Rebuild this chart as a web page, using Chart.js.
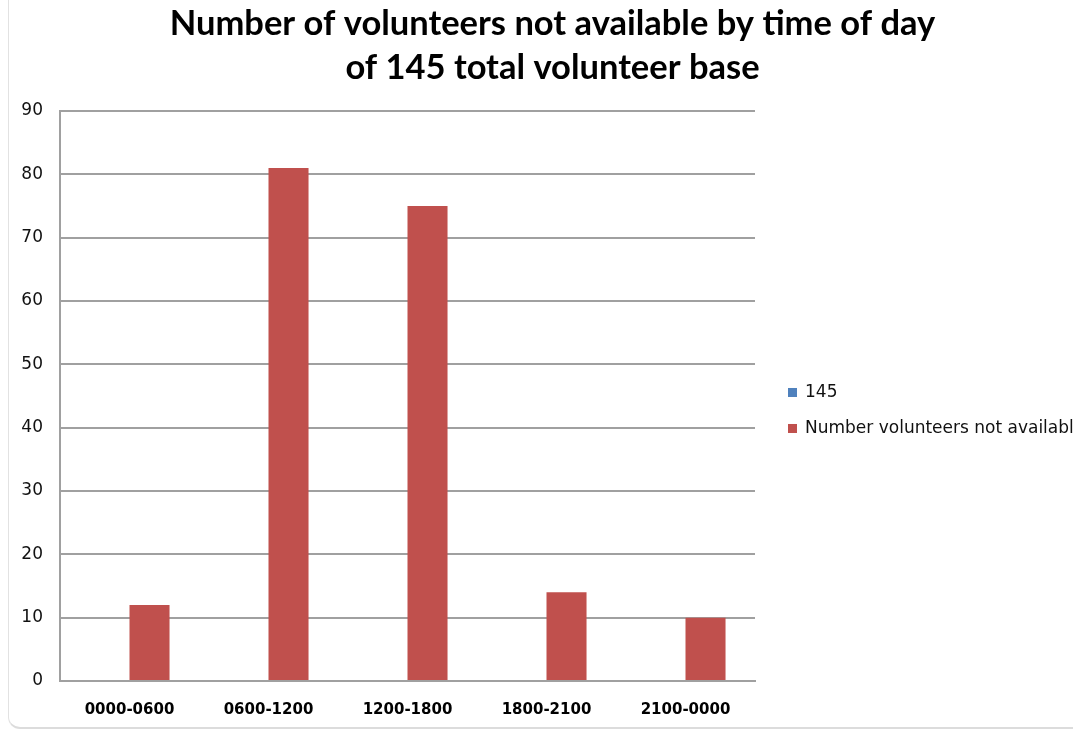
<!DOCTYPE html>
<html>
<head>
<title>Volunteers not available</title>
<script src="https://cdn.jsdelivr.net/npm/chart.js@4.4.1/dist/chart.umd.min.js"></script>
<style>
body { margin: 0; background: #ffffff; overflow: hidden; }
#wrap { position: relative; width: 1073px; height: 732px; overflow: hidden; }
#frame {
  position: absolute; left: 8px; top: -4px; right: -4px; bottom: 3px;
  border-left: 1px solid #e2e2e2; border-bottom: 2px solid #dcdcdc;
  border-bottom-left-radius: 12px;
}
#myChart { position: absolute; left: 0; top: 0; }
</style>
</head>
<body>
<div id="wrap">
<div id="frame"></div>
<canvas id="myChart" width="1105" height="732"></canvas>
</div>
<script>
var timeSlots = ['0000-0600', '0600-1200', '1200-1800', '1800-2100', '2100-0000'];
var totalBase = [null, null, null, null, null];
var notAvailable = [12, 81, 75, 14, 10];
var titleLines = ['Number of volunteers not available by time of day', 'of 145 total volunteer base'];

// legend on the right, drawn by hand so the long label runs off the edge
var sideLegend = {
  id: 'sideLegend',
  afterDraw: function (chart) {
    var c = chart.ctx;
    var area = chart.chartArea;
    var x = area.right + 33;
    var mid = (area.top + area.bottom) / 2 + 15;
    var sets = chart.data.datasets;
    c.save();
    c.font = '17px "DejaVu Sans"';
    c.textBaseline = 'middle';
    c.textAlign = 'left';
    for (var i = 0; i < sets.length; i++) {
      var y = mid + (i - (sets.length - 1) / 2) * 36;
      c.fillStyle = sets[i].backgroundColor;
      c.fillRect(x, y - 5, 9, 9);
      c.fillStyle = '#111';
      c.fillText(sets[i].label, x + 17, y);
    }
    c.restore();
  }
};

var ctx = document.getElementById('myChart').getContext('2d');
var chart = new Chart(ctx, {
  type: 'bar',
  data: {
    labels: timeSlots,
    datasets: [
      { label: '145', data: totalBase, backgroundColor: '#4F81BD' },
      { label: 'Number volunteers not available', data: notAvailable, backgroundColor: '#C0504D' }
    ]
  },
  plugins: [sideLegend],
  options: {
    responsive: false,
    animation: false,
    layout: { padding: 0 },
    datasets: { bar: { categoryPercentage: 0.576, barPercentage: 1 } },
    plugins: {
      title: {
        display: true,
        text: titleLines,
        color: '#000',
        font: { family: 'Lato', size: 34.5, weight: 'bold', lineHeight: 1.275 },
        padding: { top: 2, bottom: 21 }
      },
      legend: { display: false },
      tooltip: { enabled: false }
    },
    scales: {
      x: {
        grid: { display: false },
        border: { display: true, color: '#a0a0a0', width: 2 },
        ticks: { color: '#000', padding: 12, font: { family: 'DejaVu Sans', size: 15, weight: 'bold' } },
        afterFit: function (s) { s.height = 51; }
      },
      y: {
        min: 0,
        max: 90,
        ticks: { stepSize: 10, color: '#111', padding: 17, font: { family: 'DejaVu Sans', size: 17 } },
        grid: { color: '#a0a0a0', lineWidth: 2, drawTicks: false },
        border: { display: true, color: '#a0a0a0', width: 2 },
        afterFit: function (s) { s.width = 60; }
      },
      // empty axis that keeps room for the legend
      side: {
        position: 'right',
        display: true,
        grid: { display: false, drawTicks: false },
        border: { display: false },
        ticks: { display: false },
        afterFit: function (s) { s.width = 350; }
      }
    }
  }
});
</script>
</body>
</html>
